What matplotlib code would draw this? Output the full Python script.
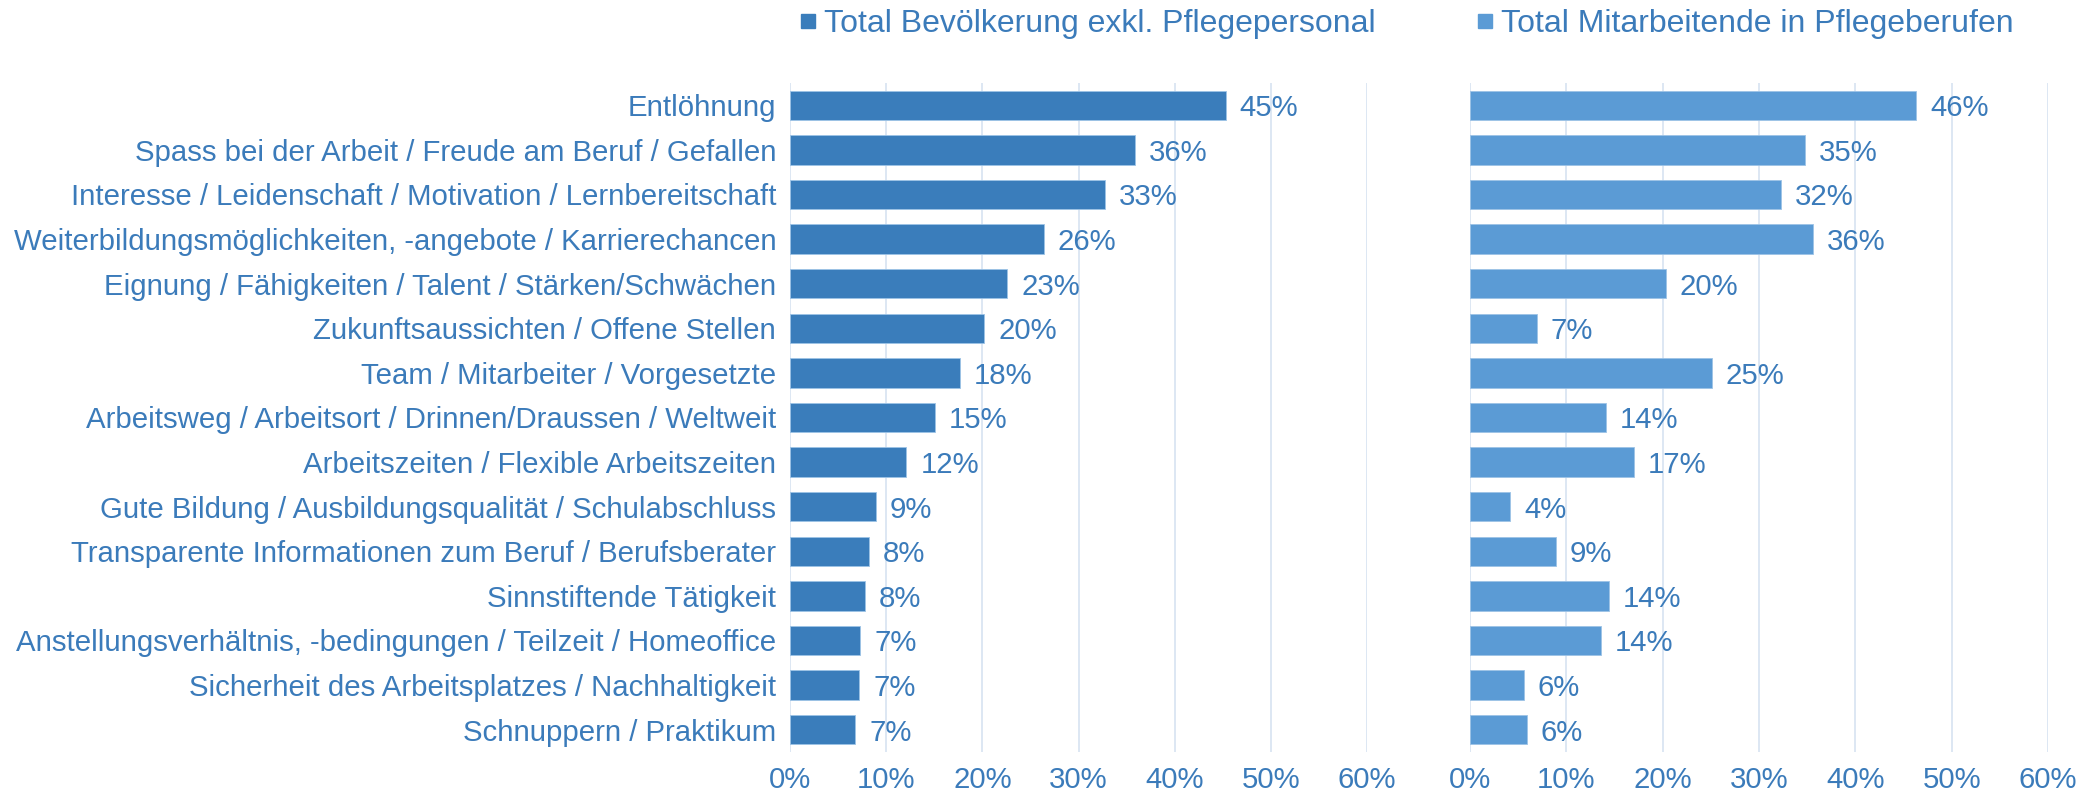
import matplotlib
matplotlib.use("Agg")
import matplotlib.pyplot as plt
from matplotlib.lines import Line2D

plt.rcParams['font.family'] = ['Liberation Sans', 'DejaVu Sans']

# data
categories = [
    "Entlöhnung",
    "Spass bei der Arbeit / Freude am Beruf / Gefallen",
    "Interesse / Leidenschaft / Motivation / Lernbereitschaft",
    "Weiterbildungsmöglichkeiten, -angebote / Karrierechancen",
    "Eignung / Fähigkeiten / Talent / Stärken/Schwächen",
    "Zukunftsaussichten / Offene Stellen",
    "Team / Mitarbeiter / Vorgesetzte",
    "Arbeitsweg / Arbeitsort / Drinnen/Draussen / Weltweit",
    "Arbeitszeiten / Flexible Arbeitszeiten",
    "Gute Bildung / Ausbildungsqualität / Schulabschluss",
    "Transparente Informationen zum Beruf / Berufsberater",
    "Sinnstiftende Tätigkeit",
    "Anstellungsverhältnis, -bedingungen / Teilzeit / Homeoffice",
    "Sicherheit des Arbeitsplatzes / Nachhaltigkeit",
    "Schnuppern / Praktikum",
]
bevoelkerung = [45.3, 35.9, 32.7, 26.4, 22.6, 20.2, 17.7, 15.1, 12.1, 8.9, 8.2, 7.8, 7.3, 7.2, 6.8]
pflege = [46.3, 34.8, 32.3, 35.6, 20.3, 6.9, 25.1, 14.1, 17.0, 4.2, 8.9, 14.4, 13.6, 5.6, 5.9]
series_names = ["Total Bevölkerung exkl. Pflegepersonal", "Total Mitarbeitende in Pflegeberufen"]
ticks = [0, 10, 20, 30, 40, 50, 60]

text_col = '#3B7BBA'
dark = '#3A7DBB'
light = '#5B9BD5'
grid_col = '#DAE5F2'
fs = 21.2

fig = plt.figure(figsize=(20.89, 7.94), dpi=100)
ax1 = fig.add_axes([0.3782, 0.0529, 0.2762, 0.8426])
ax2 = fig.add_axes([0.7037, 0.0529, 0.2767, 0.8426])

y = list(range(len(categories)))
for ax, vals, col in [(ax1, bevoelkerung, dark), (ax2, pflege, light)]:
    ax.barh(y, vals, height=0.66, color=col, edgecolor='#9DC3E6', linewidth=0.6, zorder=3)
    for yi, v in zip(y, vals):
        ax.annotate(f"{round(v)}%", (v, yi), xytext=(10, 0), textcoords='offset points',
                    va='center_baseline', ha='left', fontsize=fs, color=text_col)
    ax.set_xlim(0, 60)
    ax.set_ylim(len(categories) - 0.5, -0.5)
    ax.set_xticks(ticks)
    ax.set_xticklabels([f"{t}%" for t in ticks])
    ax.grid(axis='x', color=grid_col, linewidth=1.3, zorder=0)
    for s in ax.spines.values():
        s.set_visible(False)
    ax.tick_params(axis='x', length=0, pad=10, labelsize=fs, labelcolor=text_col)
    ax.tick_params(axis='y', length=0, pad=10, labelsize=fs, labelcolor=text_col)

ax1.set_yticks(y)
ax1.set_yticklabels(categories)
ax2.set_yticks([])

for name, col, x0 in [(series_names[0], dark, 795 / 2089), (series_names[1], light, 1472 / 2089)]:
    h = Line2D([], [], marker='s', linestyle='none', markersize=10, color=col)
    fig.legend([h], [name], loc='center left', bbox_to_anchor=(x0, 1 - 24 / 794),
               frameon=False, fontsize=23, labelcolor=text_col, handletextpad=0.1,
               handlelength=0.8, borderpad=0, borderaxespad=0)

fig.savefig("out.png", dpi=100)
